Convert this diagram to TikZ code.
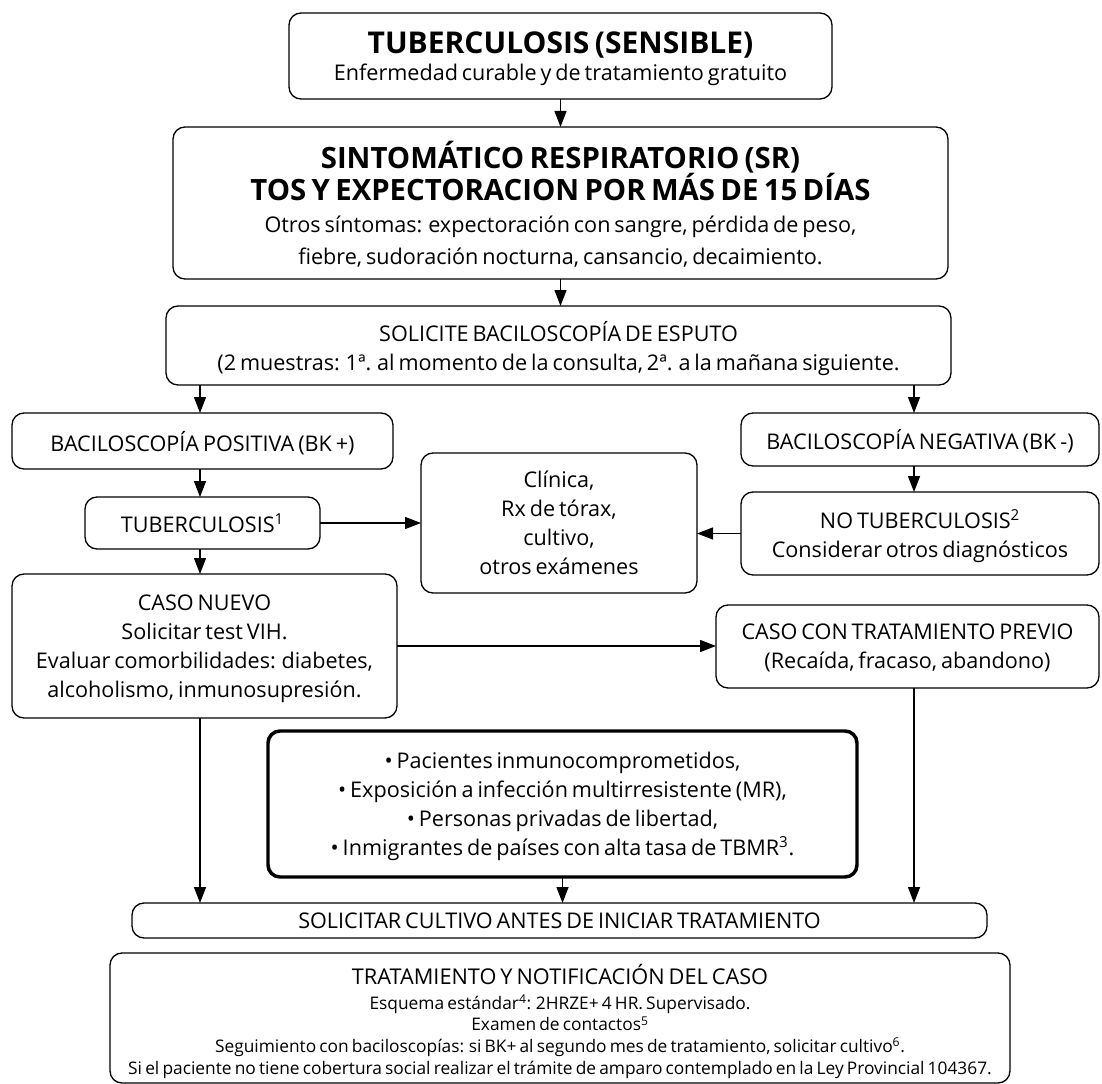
\documentclass[tikz,border=0pt]{standalone}
\usepackage{fontspec}
\setmainfont{Open Sans}[WordSpace=0.7]
\usetikzlibrary{arrows.meta}
\begin{document}
\begin{tikzpicture}[x=0.75pt,y=-0.75pt,
  box/.style={draw, line width=1pt, rounded corners=9pt, inner sep=0pt, outer sep=0pt,
    align=center, text depth=0pt, font=\fontsize{16.2}{21.75}\selectfont},
  wh/.style 2 args={minimum width=#1*0.75pt, minimum height=#2*0.75pt},
  thickbox/.style={line width=2.6pt},
  arr/.style={line width=1pt, -{Triangle[length=12pt,width=9pt]}}]

\useasboundingbox (0,0) rectangle (1102,1084);

% boxes
\node[box, wh={543}{86}] (top) at (560.5,56)
  {{\bfseries\fontsize{22.5}{26}\selectfont TUBERCULOSIS (SENSIBLE)}\\[-1pt]
   Enfermedad curable y de tratamiento gratuito};

\node[box, wh={775}{152}, font=\fontsize{16.2}{24}\selectfont] (sr) at (560.5,203)
  {{\bfseries\fontsize{22}{24}\selectfont SINTOMÁTICO RESPIRATORIO (SR)}\\
   {\bfseries\fontsize{22}{24}\selectfont TOS Y EXPECTORACION POR MÁS DE 15 DÍAS}\\
   Otros síntomas: expectoración con sangre, pérdida de peso,\\
   fiebre, sudoración nocturna, cansancio, decaimiento.};

\node[box, wh={785}{79}] (sol) at (558.5,345.5)
  {SOLICITE BACILOSCOPÍA DE ESPUTO\\
   (2 muestras: 1ª. al momento de la consulta, 2ª. a la mañana siguiente.};

\node[box, wh={381}{56}] (bkp) at (202.5,441) {BACILOSCOPÍA POSITIVA (BK +)};
\node[box, wh={358}{53}] (bkn) at (920,439.5) {BACILOSCOPÍA NEGATIVA (BK -)};

\node[box, wh={235}{52}] (tb1) at (202.5,523) {TUBERCULOSIS\textsuperscript{1}};

\node[box, wh={276}{140}] (clin) at (559,523)
  {Clínica,\\ Rx de tórax,\\ cultivo,\\ otros exámenes};

\node[box, wh={358}{83}] (notb) at (920,533.5)
  {NO TUBERCULOSIS\textsuperscript{2}\\ Considerar otros diagnósticos};

\node[box, wh={385}{144}] (cn) at (204.5,646)
  {CASO NUEVO\\ Solicitar test VIH.\\ Evaluar comorbilidades: diabetes,\\ alcoholismo, inmunosupresión.};

\node[box, wh={383}{83}] (cp) at (907.5,646.5)
  {CASO CON TRATAMIENTO PREVIO\\ (Recaída, fracaso, abandono)};

\node[box, thickbox, wh={589}{146}] (bul) at (562.5,804)
  {• Pacientes inmunocomprometidos,\\
   • Exposición a infección multirresistente (MR),\\
   • Personas privadas de libertad,\\
   • Inmigrantes de países con alta tasa de TBMR\textsuperscript{3}.};

\node[box, wh={855}{35}] (cult) at (559.5,920.5)
  {SOLICITAR CULTIVO ANTES DE INICIAR TRATAMIENTO};

\node[box, wh={900}{130}] (fin) at (560,1018) {};
\node[align=center, inner sep=0pt, anchor=base, font=\fontsize{13}{16.2}\selectfont] (fintext) at (560,1074)
  {{\fontsize{16.3}{19}\selectfont TRATAMIENTO Y NOTIFICACIÓN DEL CASO}\\[2pt]
   Esquema estándar\textsuperscript{4}: 2HRZE+ 4 HR. Supervisado.\\
   Examen de contactos\textsuperscript{5}\\
   Seguimiento con baciloscopías: si BK+ al segundo mes de tratamiento, solicitar cultivo\textsuperscript{6}.\\
   Si el paciente no tiene cobertura social realizar el trámite de amparo contemplado en la Ley Provincial 104367.};

% connectors
\coordinate (xl) at (200,0);
\coordinate (xr) at (914,0);

\draw[arr] (top.south) -- (top.south |- sr.north);
\draw[arr] (sr.south) -- (sr.south |- sol.north);
\draw[arr] (sol.south -| xl) -- (bkp.north -| xl);
\draw[arr] (sol.south -| xr) -- (bkn.north -| xr);
\draw[arr] (bkp.south -| xl) -- (tb1.north -| xl);
\draw[arr] (bkn.south -| xr) -- (notb.north -| xr);
\draw[arr] (tb1.east) -- (clin.west |- tb1.east);
\draw[arr] (notb.west) -- (clin.east |- notb.west);
\draw[arr] (tb1.south -| xl) -- (cn.north -| xl);
\draw[arr] (cn.east) -- (cp.west |- cn.east);
\draw[arr] (cn.south -| xl) -- (cult.north -| xl);
\draw[arr] (bul.south) -- (cult.north -| bul.south);
\draw[arr] (cp.south -| xr) -- (cult.north -| xr);

\end{tikzpicture}
\end{document}
